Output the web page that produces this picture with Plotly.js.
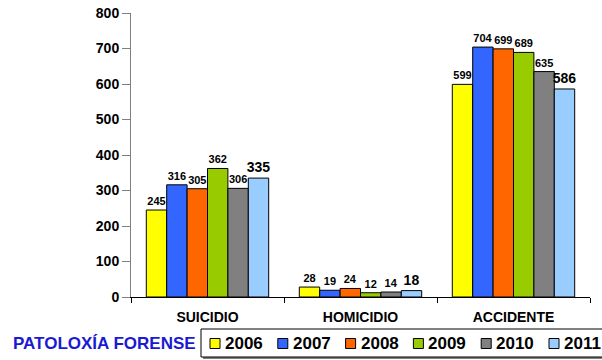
<!DOCTYPE html>
<html>
<head>
<meta charset="utf-8">
<script src="https://cdn.plot.ly/plotly-3.0.1.min.js"></script>
<style>
  html, body { margin: 0; padding: 0; background: #fff; }
  #chart { width: 602px; height: 360px; }
</style>
</head>
<body>
<div id="chart"></div>
<script>
// Categories and yearly counts
const categories = ["SUICIDIO", "HOMICIDIO", "ACCIDENTE"];
const years = ["2006", "2007", "2008", "2009", "2010", "2011"];
const v2006 = [245, 28, 599];
const v2007 = [316, 19, 704];
const v2008 = [305, 24, 699];
const v2009 = [362, 12, 689];
const v2010 = [306, 14, 635];
const v2011 = [335, 18, 586];
const seriesValues = [v2006, v2007, v2008, v2009, v2010, v2011];
const yTicks = [0, 100, 200, 300, 400, 500, 600, 700, 800];
const legendTitle = "PATOLOXÍA FORENSE";

// Styling
const colors = ["#FFFF00", "#3366FF", "#FF6600", "#99CC00", "#808080", "#99CCFF"];
const FONT = "Liberation Sans, Arial, sans-serif";
const W = 602, H = 360;
const M = { l: 131, r: 12, t: 13, b: 63 };
const PW = W - M.l - M.r, PH = H - M.t - M.b;
const px = x => (x - M.l) / PW;          // pixel -> paper x
const py = y => (H - M.b - y) / PH;      // pixel -> paper y

const traces = years.map((yr, i) => ({
  type: "bar",
  name: yr,
  x: categories,
  y: seriesValues[i],
  marker: { color: colors[i], line: { color: "#000", width: 1 } },
  texttemplate: "%{y}",
  textposition: "outside",
  constraintext: "none",
  cliponaxis: false,
  textfont: { family: FONT, size: i === years.length - 1 ? 14 : 11, color: "#000", weight: "bold" },
  hoverinfo: "x+y+name",
  showlegend: false
}));

// Hand-built legend strip below the axis
const shapes = [];
const annotations = [];
const boxL = 201, boxT = 329, boxB = 357, boxR = 640;
shapes.push({ type: "rect", xref: "paper", yref: "paper",
  x0: px(boxL + 2), x1: px(boxR), y0: py(boxB + 2), y1: py(boxT + 2),
  line: { width: 0 }, fillcolor: "#808080", layer: "above" });
shapes.push({ type: "rect", xref: "paper", yref: "paper",
  x0: px(boxL), x1: px(boxR), y0: py(boxB), y1: py(boxT),
  line: { color: "#000", width: 1 }, fillcolor: "#fff", layer: "above" });
const legCy = 343.5, step = 67.8, firstX = 210;
years.forEach((yr, i) => {
  const sx = firstX + i * step;
  shapes.push({ type: "rect", xref: "paper", yref: "paper",
    x0: px(sx), x1: px(sx + 10), y0: py(legCy + 5), y1: py(legCy - 5),
    line: { color: "#000", width: 1 }, fillcolor: colors[i], layer: "above" });
  annotations.push({ xref: "paper", yref: "paper", x: px(sx + 13), y: py(legCy),
    xanchor: "left", yanchor: "middle", showarrow: false, text: yr,
    font: { family: FONT, size: 17, color: "#000", weight: "bold" } });
});
annotations.push({ xref: "paper", yref: "paper", x: px(198), y: py(legCy),
  xanchor: "right", yanchor: "middle", showarrow: false, text: legendTitle,
  font: { family: FONT, size: 17, color: "#1A1AD2", weight: "bold" } });

const layout = {
  width: W, height: H,
  margin: M,
  paper_bgcolor: "#fff", plot_bgcolor: "#fff",
  barmode: "group", bargap: 0.2, bargroupgap: 0,
  showlegend: false,
  font: { family: FONT, color: "#000" },
  xaxis: {
    type: "category",
    showline: true, linecolor: "#000", linewidth: 1,
    ticks: "outside", tickson: "boundaries", ticklen: 5, tickcolor: "#000",
    ticklabelstandoff: 7,
    showgrid: false, zeroline: false,
    tickfont: { family: FONT, size: 14, color: "#000", weight: "bold" },
    fixedrange: true
  },
  yaxis: {
    range: [0, 800], tickvals: yTicks, ticktext: yTicks.map(String),
    showline: true, linecolor: "#808080", linewidth: 1,
    ticks: "outside", ticklen: 8, tickcolor: "#808080",
    showgrid: false, zeroline: false,
    tickfont: { family: FONT, size: 14, color: "#000", weight: "bold" },
    fixedrange: true
  },
  shapes: shapes,
  annotations: annotations
};

Plotly.newPlot("chart", traces, layout, { displayModeBar: false, staticPlot: true });
</script>
</body>
</html>
